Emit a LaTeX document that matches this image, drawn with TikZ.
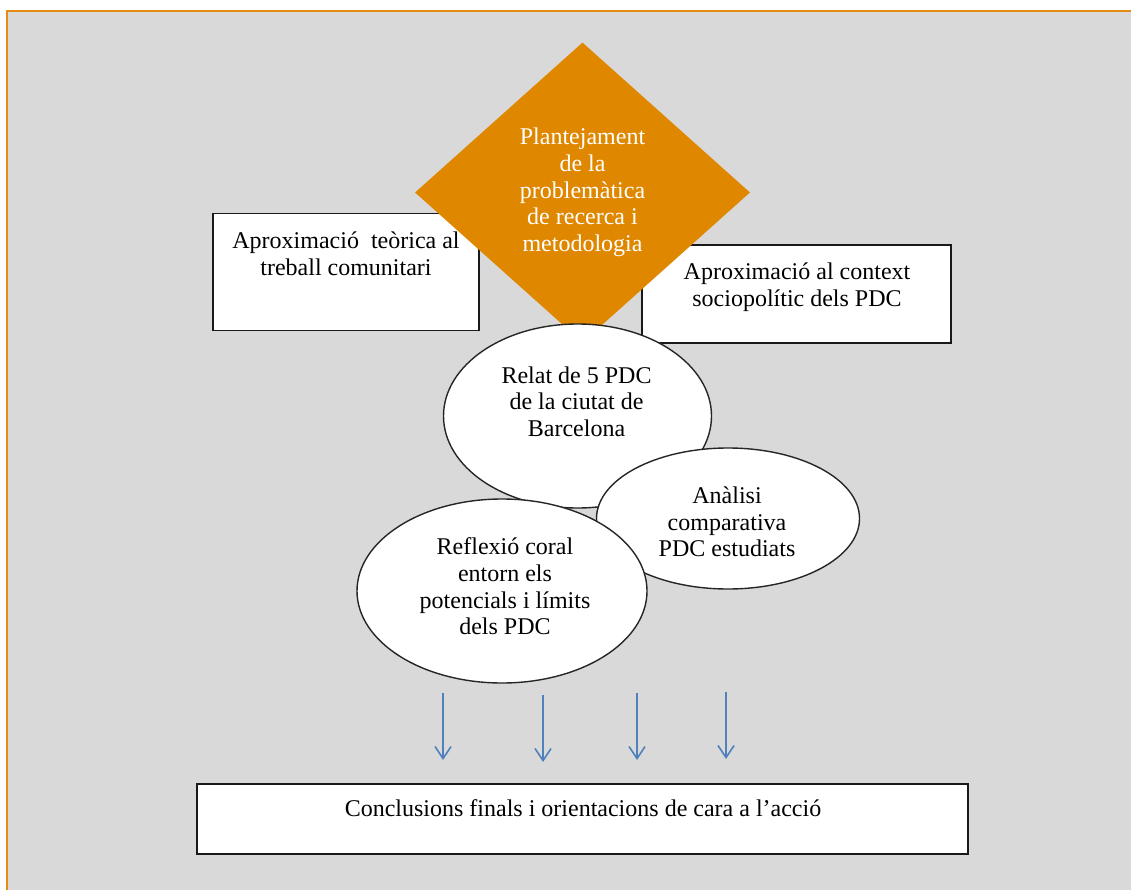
\documentclass[tikz,border=0pt]{standalone}
\usepackage{fontspec}
\setmainfont{Liberation Serif}
\usetikzlibrary{shapes.geometric,arrows.meta}
\definecolor{bggray}{RGB}{217,217,217}
\definecolor{frameorange}{RGB}{228,140,20}
\definecolor{dorange}{RGB}{224,135,0}
\definecolor{arrowblue}{RGB}{79,129,189}
\tikzset{
  txt/.style={font=\fontsize{24}{26.7}\selectfont, align=center, inner sep=0pt},
  whitebox/.style={draw=black!90, line width=1.7pt, fill=white, inner sep=0pt},
  oval/.style={ellipse, draw=black!85, line width=1.4pt, fill=white, inner sep=0pt},
  downarrow/.style={draw=arrowblue, line width=1.6pt, -{Straight Barb[length=12pt,width=16pt,line width=1.6pt]}}
}
\begin{document}
\begin{tikzpicture}[x=1pt,y=-1pt]
\useasboundingbox (0,0) rectangle (1131,890);
\fill[white] (0,0) rectangle (1131,890);
\fill[bggray] (7,11) rectangle (1131,890);
\draw[frameorange, line width=2.2pt] (7,890) -- (7,11) -- (1131,11);

% side boxes
\node[whitebox, minimum width=266pt, minimum height=117pt] (leftbox) at (346,272) {};
\node[txt] (lefttext) at (346,254) {Aproximació\ \ teòrica al\\treball comunitari};
\node[whitebox, minimum width=309pt, minimum height=98pt] (rightbox) at (796.5,294) {};
\node[txt] (righttext) at (797,287.5) {Aproximació al context\\sociopolític dels PDC};

% diamond
\node[diamond, fill=dorange, minimum width=335pt, minimum height=300pt, inner sep=0pt, txt, text=white] (plan) at (582.5,192.5) {Plantejament\\de la\\problemàtica\\de recerca i\\metodologia};

% ellipses
\node[oval, minimum width=268pt, minimum height=184pt] (relat) at (577.5,416) {};
\node[txt] (relattext) at (576.5,401.5) {Relat de 5 PDC\\de la ciutat de\\Barcelona};
\node[oval, minimum width=263pt, minimum height=141pt] (analisi) at (728,518.5) {};
\node[txt] (analisitext) at (727,522) {Anàlisi\\comparativa\\PDC estudiats};
\node[oval, minimum width=290pt, minimum height=184pt] (reflexio) at (502,591) {};
\node[txt] (reflexiotext) at (505,586.5) {Reflexió coral\\entorn els\\potencials i límits\\dels PDC};

% bottom box
\node[whitebox, minimum width=771pt, minimum height=70pt] (conclusions) at (582.5,819) {};
\node[txt] (conctext) at (583,808.5) {Conclusions finals i orientacions de cara a l’acció};

% arrows
\foreach \i/\x/\t/\b in {1/443/693/760, 2/543/695/762, 3/637/693/760, 4/726/692/759}{
  \coordinate (a\i top) at (\x,\t);
  \coordinate (a\i bot) at (\x,\b);
  \draw[downarrow] (a\i top) -- (a\i bot);
}
\end{tikzpicture}
\end{document}
